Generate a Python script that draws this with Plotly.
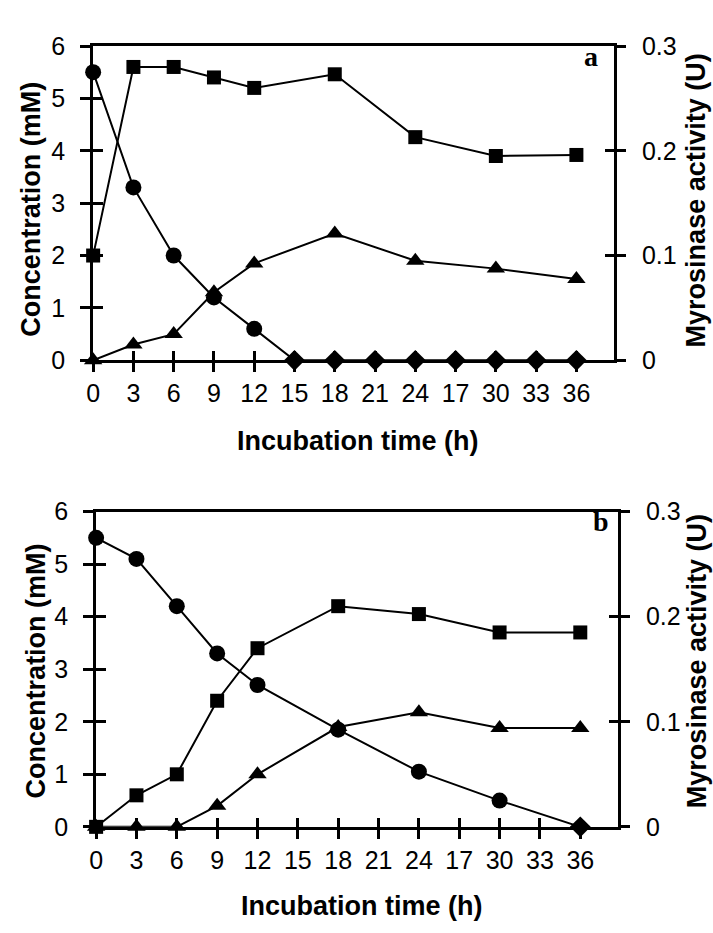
import plotly.graph_objects as go

# Sampling times (h) and their printed tick labels
hours = [0, 3, 6, 9, 12, 15, 18, 21, 24, 27, 30, 33, 36]
tick_labels = ["0", "3", "6", "9", "12", "15", "18", "21", "24", "17", "30", "33", "36"]

# Panel a
a_circle_t = [0, 3, 6, 9, 12, 15, 18, 21, 24, 27, 30, 33, 36]
a_circle_mM = [5.5, 3.3, 2.0, 1.2, 0.6, 0, 0, 0, 0, 0, 0, 0, 0]
a_tri_t = [0, 3, 6, 9, 12, 18, 24, 30, 36]
a_tri_mM = [0, 0.3, 0.5, 1.3, 1.85, 2.42, 1.9, 1.75, 1.55]
a_sq_t = [0, 3, 6, 9, 12, 18, 24, 30, 36]
a_sq_U = [0.10, 0.28, 0.28, 0.27, 0.26, 0.273, 0.213, 0.195, 0.196]

# Panel b
b_circle_t = [0, 3, 6, 9, 12, 18, 24, 30, 36]
b_circle_mM = [5.5, 5.1, 4.2, 3.3, 2.7, 1.85, 1.05, 0.5, 0]
b_tri_t = [0, 3, 6, 9, 12, 18, 24, 30, 36]
b_tri_mM = [0, 0, 0, 0.4, 1.0, 1.9, 2.18, 1.88, 1.88]
b_sq_t = [0, 3, 6, 9, 12, 18, 24, 30, 36]
b_sq_U = [0, 0.03, 0.05, 0.12, 0.17, 0.21, 0.2025, 0.185, 0.185]

panel_letters = ["a", "b"]
x_title = "Incubation time (h)"
yl_title = "Concentration (mM)"
yr_title = "Myrosinase activity (U)"

W, H = 713, 933
BLACK = "black"
TICK_FONT = dict(family="Liberation Sans, Arial", size=25, color=BLACK)
TITLE_FONT = dict(family="Liberation Sans, Arial", size=27, color=BLACK)
LINE = dict(color=BLACK, width=2)

fig = go.Figure()


def circle_symbols(vals):
    # exhausted substrate points are drawn as diamonds
    return ["diamond" if v == 0 else "circle" for v in vals]


def add_panel(xa, yl, yr, ct, cv, tt, tv, st, sv):
    fig.add_trace(go.Scatter(x=ct, y=cv, xaxis=xa, yaxis=yl, mode="lines+markers", cliponaxis=False,
                             line=LINE, marker=dict(symbol=circle_symbols(cv), size=16, color=BLACK),
                             showlegend=False))
    fig.add_trace(go.Scatter(x=tt, y=tv, xaxis=xa, yaxis=yl, mode="lines+markers", cliponaxis=False,
                             line=LINE, marker=dict(symbol="triangle-up", size=16, color=BLACK),
                             showlegend=False))
    fig.add_trace(go.Scatter(x=st, y=sv, xaxis=xa, yaxis=yr, mode="lines+markers", cliponaxis=False,
                             line=LINE, marker=dict(symbol="square", size=14, color=BLACK),
                             showlegend=False))


add_panel("x", "y", "y2", a_circle_t, a_circle_mM, a_tri_t, a_tri_mM, a_sq_t, a_sq_U)
add_panel("x2", "y3", "y4", b_circle_t, b_circle_mM, b_tri_t, b_tri_mM, b_sq_t, b_sq_U)

# empty traces so that the overlay axes (inner half of the crossing ticks) are laid out
for xa, ya in [("x3", "y"), ("x4", "y3"), ("x", "y5"), ("x", "y6"), ("x2", "y7"), ("x2", "y8")]:
    fig.add_trace(go.Scatter(x=[], y=[], xaxis=xa, yaxis=ya, showlegend=False, hoverinfo="skip"))

XR = [0, 38.8]
doms = {
    "a": dict(x=[87 / W, 613 / W], y=[1 - 357 / H, 1 - 33 / H]),
    "b": dict(x=[90 / W, 617 / W], y=[1 - 838 / H, 1 - 513 / H]),
}

base_x = dict(range=XR, tickmode="array", tickvals=hours, ticktext=tick_labels,
              showgrid=False, zeroline=False, tickfont=TICK_FONT, tickcolor=BLACK,
              ticklen=9, tickwidth=2.5, ticklabelstandoff=0)
base_yl = dict(range=[0, 6], dtick=1, tick0=0, showgrid=False, zeroline=False,
               tickfont=TICK_FONT, tickcolor=BLACK, ticklen=10, tickwidth=2.5, ticklabelstandoff=10)
base_yr = dict(range=[0, 0.3], tickmode="array", tickvals=[0, 0.1, 0.2, 0.3],
               ticktext=["0", "0.1", "0.2", "0.3"], showgrid=False, zeroline=False,
               tickfont=TICK_FONT, tickcolor=BLACK, ticklen=9, tickwidth=2.5, ticklabelstandoff=11)

layout = dict(width=W, height=H, margin=dict(l=0, r=0, t=0, b=0),
              paper_bgcolor="white", plot_bgcolor="rgba(0,0,0,0)", showlegend=False)

panels = [("x", "y", "y2", "x3", "y5", "y6", "a"), ("x2", "y3", "y4", "x4", "y7", "y8", "b")]
for xa, yl, yr, xin, ylin, yrin, key in panels:
    d = doms[key]
    layout["xaxis" + xa[1:]] = dict(base_x, domain=d["x"], anchor=yl, ticks="outside",
                                    showline=True, linecolor=BLACK, linewidth=3, mirror=True)
    layout["xaxis" + xin[1:]] = dict(base_x, domain=d["x"], anchor=yl, overlaying=xa,
                                     ticks="inside", showticklabels=False, showline=False)
    layout["yaxis" + yl[1:]] = dict(base_yl, domain=d["y"], anchor=xa, ticks="outside",
                                    showline=True, linecolor=BLACK, linewidth=3)
    layout["yaxis" + ylin[1:]] = dict(base_yl, domain=d["y"], anchor=xa, overlaying=yl,
                                      ticks="inside", showticklabels=False, showline=False)
    layout["yaxis" + yr[1:]] = dict(base_yr, domain=d["y"], anchor=xa, overlaying=yl, side="right",
                                    ticks="outside", showline=True, linecolor=BLACK, linewidth=3)
    layout["yaxis" + yrin[1:]] = dict(base_yr, domain=d["y"], anchor=xa, overlaying=yl, side="right",
                                      ticks="inside", showticklabels=False, showline=False)

fig.update_layout(**layout)

# axis titles, centred on each panel's title positions
title_pos = [
    dict(x=(354, 440), yl=(24, 201), yr=(696, 192)),
    dict(x=(358, 920), yl=(29, 677), yr=(697, 667)),
]
for tp in title_pos:
    for key, text, angle in [("x", x_title, 0), ("yl", yl_title, -90), ("yr", yr_title, -90)]:
        px, py = tp[key]
        fig.add_annotation(text="<b>%s</b>" % text, x=px / W, y=1 - py / H, xref="paper", yref="paper",
                           showarrow=False, xanchor="center", yanchor="middle", textangle=angle,
                           font=TITLE_FONT)

# panel letters
for letter, (px, py) in zip(panel_letters, [(590, 44), (600, 523)]):
    fig.add_annotation(text="<b>%s</b>" % letter, x=px / W, y=1 - py / H, xref="paper", yref="paper",
                       showarrow=False, xanchor="center", yanchor="middle",
                       font=dict(family="Liberation Serif, Times New Roman", size=28, color=BLACK))

fig.write_html("out.html")
